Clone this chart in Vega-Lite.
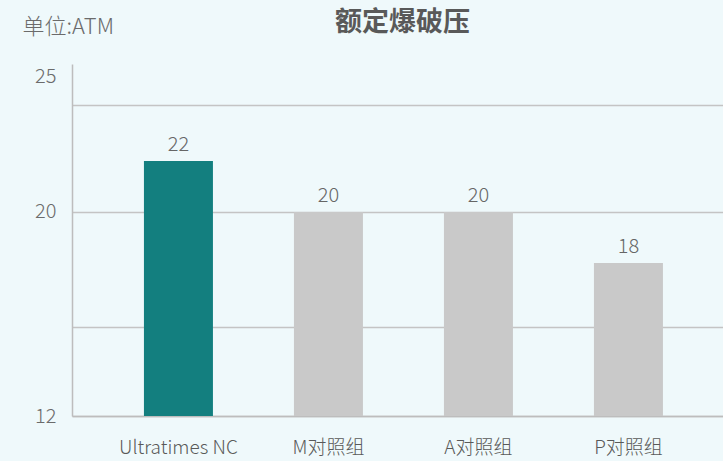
{
  "$schema": "https://vega.github.io/schema/vega-lite/v6.json",
  "width": 651,
  "height": 352,
  "autosize": {"type": "none"},
  "padding": {"left": 72, "top": 64, "right": 0, "bottom": 45},
  "background": "#eff9fb",
  "title": {
    "text": "额定爆破压",
    "font": "Noto Sans CJK SC",
    "fontSize": 27,
    "fontWeight": "bold",
    "color": "#595959",
    "anchor": "middle",
    "dx": 5,
    "offset": -22
  },
  "config": {
    "view": {"stroke": null},
    "font": "Noto Sans CJK SC"
  },
  "data": {
    "values": [
      {"group": "Ultratimes NC", "value": 22, "highlight": "yes"},
      {"group": "M对照组", "value": 20, "highlight": "no"},
      {"group": "A对照组", "value": 20, "highlight": "no"},
      {"group": "P对照组", "value": 18, "highlight": "no"}
    ]
  },
  "encoding": {
    "x": {
      "field": "group",
      "type": "nominal",
      "sort": null,
      "scale": {"paddingInner": 0.54, "paddingOuter": 0.44, "align": 0.545},
      "axis": {
        "title": null,
        "labelAngle": 0,
        "labelFontSize": 19,
        "labelFontWeight": 300,
        "labelColor": "#595959",
        "labelPadding": 22,
        "ticks": false,
        "domainColor": "#bdbdbd",
        "domainWidth": 1.5
      }
    },
    "y": {
      "field": "value",
      "type": "quantitative",
      "scale": {"domain": [12, 25.8], "nice": false, "zero": false},
      "axis": {
        "title": "单位:ATM",
        "titleAngle": 0,
        "titleAlign": "left",
        "titleBaseline": "alphabetic",
        "titleX": -50,
        "titleY": -31,
        "titleFontSize": 22,
        "titleFontWeight": 300,
        "titleColor": "#6b6b6b",
        "values": [12, 15.5, 20, 24.2, 25.3],
        "labelExpr": "datum.value == 12 ? '12' : datum.value == 20 ? '20' : datum.value == 25.3 ? '25' : ''",
        "labelFontSize": 20,
        "labelFontWeight": 300,
        "labelColor": "#6b6b6b",
        "labelPadding": 16,
        "ticks": false,
        "grid": true,
        "gridColor": "#c4c4c4",
        "gridWidth": 1.5,
        "gridOpacity": {"condition": {"test": "datum.value == 25.3", "value": 0}, "value": 1},
        "domainColor": "#bdbdbd",
        "domainWidth": 1.5
      }
    }
  },
  "layer": [
    {
      "mark": {"type": "bar"},
      "encoding": {
        "y2": {"datum": 12},
        "color": {
          "field": "highlight",
          "type": "nominal",
          "scale": {"domain": ["yes", "no"], "range": ["#137f7f", "#c9c9c9"]},
          "legend": null
        }
      }
    },
    {
      "mark": {"type": "text", "dy": -10, "baseline": "alphabetic", "fontSize": 20, "fontWeight": 300, "color": "#666666"},
      "encoding": {
        "text": {"field": "value", "type": "quantitative"}
      }
    }
  ]
}
